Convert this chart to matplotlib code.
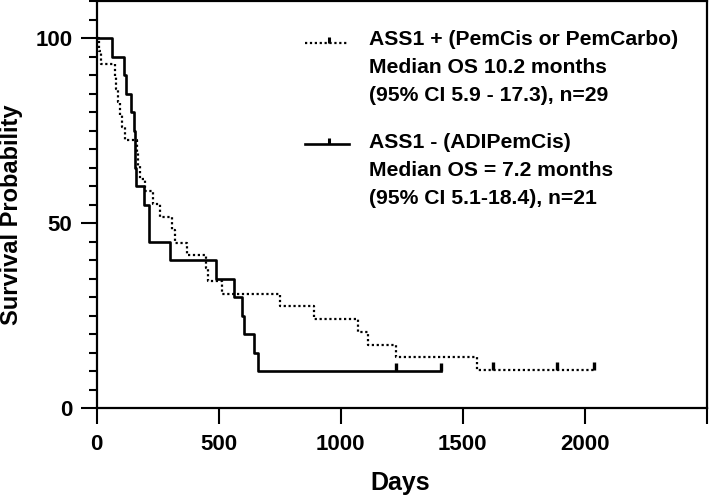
#Kaplan-Meier overall survival: ASS1+ vs ASS1- groups
import matplotlib
matplotlib.use("Agg")
import matplotlib.pyplot as plt
from matplotlib.markers import TICKUP

plt.rcParams['font.family'] = ['Liberation Sans', 'DejaVu Sans']

#ASS1 + (PemCis or PemCarbo), n=29 -- step curve (days, survival %)
pos_days = [0, 8, 16, 75, 80, 86, 94, 105, 115, 166, 170, 176, 198, 232, 260,
            308, 321, 369, 449, 458, 513, 752, 889, 1070, 1111, 1227, 1560, 2039]
pos_surv = [100, 96.6, 93.1, 89.7, 86.2, 82.8, 79.3, 75.9, 72.4, 69.0, 65.5, 62.1,
            58.6, 55.2, 51.7, 48.3, 44.8, 41.4, 37.9, 34.5, 31.0, 27.6, 24.1, 20.7,
            17.2, 13.8, 10.3, 10.3]
pos_cens_days = [1624, 1885, 2039]
pos_cens_surv = [10.3, 10.3, 10.3]

#ASS1 - (ADIPemCis), n=21
neg_days = [0, 64, 113, 120, 141, 154, 158, 162, 194, 216, 301, 490, 561, 595,
            605, 643, 660, 1412]
neg_surv = [100, 95, 90, 85, 80, 75, 65, 60, 55, 45, 40, 35, 30, 25, 20, 15, 10, 10]
neg_cens_days = [1227, 1412]
neg_cens_surv = [10, 10]

pos_label = ["ASS1 + (PemCis or PemCarbo)", "Median OS 10.2 months",
             "(95% CI 5.9 - 17.3), n=29"]
neg_label = ["ASS1 - (ADIPemCis)", "Median OS = 7.2 months",
             "(95% CI 5.1-18.4), n=21"]

W, H = 709, 498
fig = plt.figure(figsize=(W / 100, H / 100), dpi=100)

#axes box in pixels: x 96.7..706.7, y 1.3..408.3
ax = fig.add_axes([96.7 / W, (H - 408.3) / H, 610 / W, 407 / H])

dots = (0, (1, 1.2))
ax.step(pos_days, pos_surv, where='post', color='black', lw=1.6, ls=dots)
ax.step(neg_days, neg_surv, where='post', color='black', lw=1.9)
ax.plot(pos_cens_days, pos_cens_surv, ls='none', marker=TICKUP, ms=6, mew=2.4, color='black')
ax.plot(neg_cens_days, neg_cens_surv, ls='none', marker=TICKUP, ms=6, mew=2.4, color='black')

ax.set_xlim(0, 2500)
ax.set_ylim(0, 110)
ax.set_xticks([0, 500, 1000, 1500, 2000, 2500])
ax.set_xticklabels(['0', '500', '1000', '1500', '2000', ''])
ax.set_yticks([0, 50, 100])
ax.set_yticks(range(0, 111, 5), minor=True)
ax.tick_params(axis='both', which='major', length=11.5, width=1.5, labelsize=16, color='black')
ax.tick_params(axis='x', which='major', pad=7)
ax.tick_params(axis='y', which='major', pad=6)
ax.tick_params(axis='y', which='minor', length=5.8, width=1.5)
for lab in ax.get_xticklabels() + ax.get_yticklabels():
    lab.set_fontweight('bold')
for sp in ax.spines.values():
    sp.set_linewidth(1.6)

fig.text(12 / W, 1 - 215 / H, "Survival Probability", rotation=90, ha='center', va='center',
         fontsize=17, fontweight='bold')
fig.text(400 / W, 1 - 483 / H, "Days", ha='center', va='center', fontsize=18, fontweight='bold')


#legend drawn by hand so the key sits on the first text line
def legend_entry(y_key, y_base, lines, style, lw):
    fig.add_artist(plt.Line2D([305 / W, 349 / W], [1 - y_key / H] * 2, color='black',
                              lw=lw, ls=style))
    fig.add_artist(plt.Line2D([329 / W], [1 - y_key / H], color='black', ls='none',
                              marker=TICKUP, ms=4, mew=2.2))
    for i, txt in enumerate(lines):
        fig.text(369 / W, 1 - (y_base + i * 28) / H, txt, ha='left', va='baseline',
                 fontsize=15.2, fontweight='bold')


legend_entry(43.5, 45, pos_label, dots, 1.6)
legend_entry(143.5, 148.5, neg_label, '-', 1.9)

fig.savefig("out.png", dpi=100)
